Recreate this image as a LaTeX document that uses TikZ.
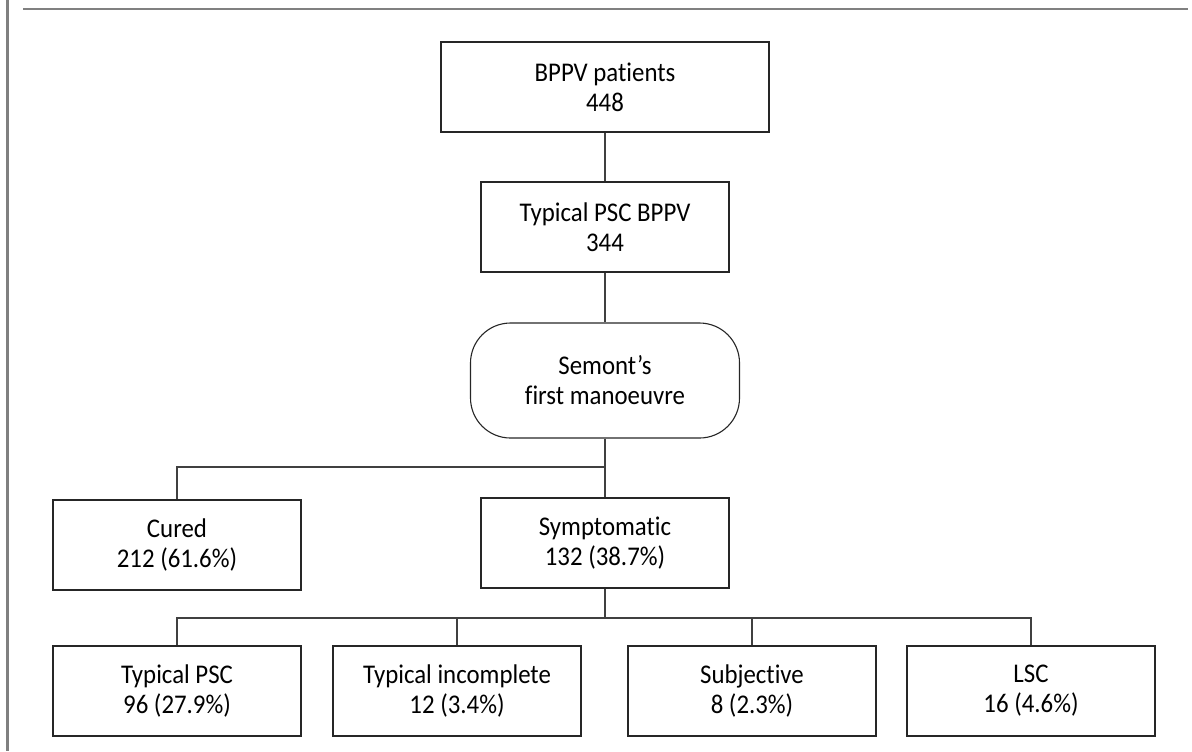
\documentclass[tikz,border=0pt]{standalone}
\usepackage{fontspec}
\setmainfont{Carlito}[FakeStretch=0.92,Ligatures={NoCommon,NoContextual}]
\begin{document}
\begin{tikzpicture}[x=0.5pt,y=-0.5pt,
  box/.style={draw=black!85,line width=0.55pt,rectangle,inner sep=0pt,
    minimum width=124pt,minimum height=45pt,align=center,
    font=\fontsize{13.5}{15}\selectfont},
  conn/.style={draw=black!75,line width=0.55pt},
  frame/.style={draw=black!50,line width=1.1pt}]
\useasboundingbox (0,0) rectangle (1192,751);
\draw[frame] (23,9) -- (1188,9);
\draw[frame] (7.5,0) -- (7.5,751);
\node[box,minimum width=164pt] (bppv) at (605,87) {BPPV patients\\448};
\node[box] (typ) at (605,227) {Typical PSC BPPV\\344};
\node[box,minimum width=134.5pt,minimum height=57.5pt,rounded corners=20pt] (sem) at (605,380.5) {Semont’s\\first manoeuvre};
\node[box] (cured) at (177,545) {Cured\\212 (61.6\%)};
\node[box] (sympt) at (605,543) {Symptomatic\\132 (38.7\%)};
\node[box] (b1) at (177,691) {Typical PSC\\96 (27.9\%)};
\node[box] (b2) at (457,691) {Typical incomplete\\12 (3.4\%)};
\node[box] (b3) at (752,691) {Subjective\\8 (2.3\%)};
\node[box] (b4) at (1031,691) {LSC\\16 (4.6\%)};
\coordinate (j1) at (605,467);
\coordinate (j2) at (605,618);
\draw[conn] (bppv.south) -- (typ.north);
\draw[conn] (typ.south) -- (sem.north);
\draw[conn] (sem.south) -- (sympt.north);
\draw[conn] (j1) -| (cured.north);
\draw[conn] (sympt.south) -- (j2);
\draw[conn] (b1.north) |- (b4.north |- j2) -- (b4.north);
\draw[conn] (b2.north) -- (b2.north |- j2);
\draw[conn] (b3.north) -- (b3.north |- j2);
\end{tikzpicture}
\end{document}
